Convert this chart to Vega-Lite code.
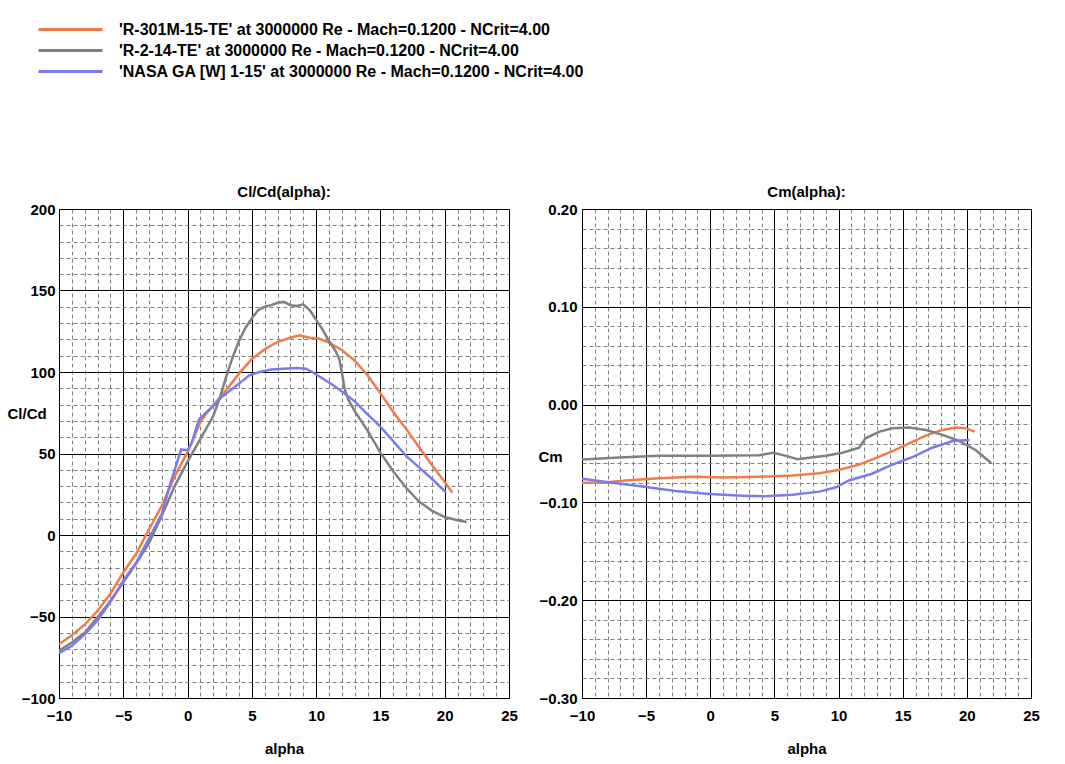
{
  "$schema": "https://vega.github.io/schema/vega-lite/v6.json",
  "background": "white",
  "padding": {"left": 6, "top": 20, "right": 0, "bottom": 0},
  "autosize": {"type": "pad"},
  "config": {
    "font": "Liberation Sans",
    "view": {"stroke": "black", "strokeWidth": 1},
    "axis": {
      "labelFont": "Liberation Sans", "labelFontSize": 15, "labelFontWeight": "bold", "labelColor": "black",
      "titleFont": "Liberation Sans", "titleFontSize": 15, "titleFontWeight": "bold", "titleColor": "black",
      "ticks": false, "domain": false, "grid": true, "gridOpacity": 1, "labelOverlap": false, "labelBound": false, "labelFlush": false
    },
    "title": {"font": "Liberation Sans", "fontSize": 15, "fontWeight": "bold", "color": "black", "offset": 2},
    "legend": {
      "orient": "none", "legendX": 2, "legendY": -189, "direction": "vertical",
      "title": null, "padding": 0,
      "symbolType": "M-4,0H4", "symbolSize": 256, "symbolStrokeWidth": 3,
      "labelFont": "Liberation Sans", "labelFontSize": 16, "labelFontWeight": "bold", "labelColor": "black",
      "labelLimit": 0, "labelOffset": 39, "rowPadding": 3
    }
  },
  "datasets": {
    "clcd": [
      {"series": "R-301M-15-TE", "alpha": -10, "v": -67},
      {"series": "R-301M-15-TE", "alpha": -9, "v": -61.5},
      {"series": "R-301M-15-TE", "alpha": -8, "v": -55},
      {"series": "R-301M-15-TE", "alpha": -7, "v": -46.5},
      {"series": "R-301M-15-TE", "alpha": -6, "v": -36},
      {"series": "R-301M-15-TE", "alpha": -5, "v": -23},
      {"series": "R-301M-15-TE", "alpha": -4, "v": -11.5},
      {"series": "R-301M-15-TE", "alpha": -3, "v": 3.5},
      {"series": "R-301M-15-TE", "alpha": -2, "v": 18},
      {"series": "R-301M-15-TE", "alpha": -1, "v": 36},
      {"series": "R-301M-15-TE", "alpha": 0, "v": 51},
      {"series": "R-301M-15-TE", "alpha": 0.5, "v": 60},
      {"series": "R-301M-15-TE", "alpha": 1, "v": 69.5},
      {"series": "R-301M-15-TE", "alpha": 1.5, "v": 75},
      {"series": "R-301M-15-TE", "alpha": 2, "v": 79.5},
      {"series": "R-301M-15-TE", "alpha": 3, "v": 89},
      {"series": "R-301M-15-TE", "alpha": 4, "v": 99},
      {"series": "R-301M-15-TE", "alpha": 5, "v": 108},
      {"series": "R-301M-15-TE", "alpha": 6, "v": 114},
      {"series": "R-301M-15-TE", "alpha": 7, "v": 118.5},
      {"series": "R-301M-15-TE", "alpha": 8, "v": 121},
      {"series": "R-301M-15-TE", "alpha": 8.7, "v": 122.5},
      {"series": "R-301M-15-TE", "alpha": 9.5, "v": 121},
      {"series": "R-301M-15-TE", "alpha": 10.2, "v": 120.5},
      {"series": "R-301M-15-TE", "alpha": 11, "v": 118},
      {"series": "R-301M-15-TE", "alpha": 12, "v": 113.5},
      {"series": "R-301M-15-TE", "alpha": 13, "v": 107},
      {"series": "R-301M-15-TE", "alpha": 14, "v": 98},
      {"series": "R-301M-15-TE", "alpha": 15, "v": 87},
      {"series": "R-301M-15-TE", "alpha": 16, "v": 75.5},
      {"series": "R-301M-15-TE", "alpha": 17, "v": 65},
      {"series": "R-301M-15-TE", "alpha": 18, "v": 54},
      {"series": "R-301M-15-TE", "alpha": 19, "v": 43},
      {"series": "R-301M-15-TE", "alpha": 20, "v": 32.5},
      {"series": "R-301M-15-TE", "alpha": 20.6, "v": 26},
      {"series": "R-2-14-TE", "alpha": -10, "v": -71},
      {"series": "R-2-14-TE", "alpha": -9, "v": -66},
      {"series": "R-2-14-TE", "alpha": -8, "v": -60},
      {"series": "R-2-14-TE", "alpha": -7, "v": -50.5},
      {"series": "R-2-14-TE", "alpha": -6, "v": -40.5},
      {"series": "R-2-14-TE", "alpha": -5, "v": -29},
      {"series": "R-2-14-TE", "alpha": -4, "v": -17.5},
      {"series": "R-2-14-TE", "alpha": -3, "v": -5},
      {"series": "R-2-14-TE", "alpha": -2, "v": 12},
      {"series": "R-2-14-TE", "alpha": -1, "v": 30},
      {"series": "R-2-14-TE", "alpha": 0, "v": 45},
      {"series": "R-2-14-TE", "alpha": 1, "v": 59},
      {"series": "R-2-14-TE", "alpha": 2, "v": 73},
      {"series": "R-2-14-TE", "alpha": 2.5, "v": 84},
      {"series": "R-2-14-TE", "alpha": 3, "v": 97},
      {"series": "R-2-14-TE", "alpha": 3.5, "v": 109},
      {"series": "R-2-14-TE", "alpha": 4, "v": 119},
      {"series": "R-2-14-TE", "alpha": 4.5, "v": 127},
      {"series": "R-2-14-TE", "alpha": 5, "v": 133},
      {"series": "R-2-14-TE", "alpha": 5.5, "v": 138},
      {"series": "R-2-14-TE", "alpha": 6, "v": 140},
      {"series": "R-2-14-TE", "alpha": 6.5, "v": 141},
      {"series": "R-2-14-TE", "alpha": 7, "v": 142.5},
      {"series": "R-2-14-TE", "alpha": 7.5, "v": 143},
      {"series": "R-2-14-TE", "alpha": 8, "v": 141},
      {"series": "R-2-14-TE", "alpha": 8.5, "v": 140.5},
      {"series": "R-2-14-TE", "alpha": 9, "v": 141.5},
      {"series": "R-2-14-TE", "alpha": 9.5, "v": 138},
      {"series": "R-2-14-TE", "alpha": 10, "v": 132},
      {"series": "R-2-14-TE", "alpha": 10.5, "v": 126},
      {"series": "R-2-14-TE", "alpha": 11, "v": 119},
      {"series": "R-2-14-TE", "alpha": 11.5, "v": 113},
      {"series": "R-2-14-TE", "alpha": 11.8, "v": 108},
      {"series": "R-2-14-TE", "alpha": 12, "v": 100},
      {"series": "R-2-14-TE", "alpha": 12.2, "v": 90},
      {"series": "R-2-14-TE", "alpha": 12.5, "v": 83},
      {"series": "R-2-14-TE", "alpha": 13, "v": 76},
      {"series": "R-2-14-TE", "alpha": 14, "v": 64},
      {"series": "R-2-14-TE", "alpha": 15, "v": 50.5},
      {"series": "R-2-14-TE", "alpha": 16, "v": 39},
      {"series": "R-2-14-TE", "alpha": 17, "v": 29},
      {"series": "R-2-14-TE", "alpha": 18, "v": 20.5},
      {"series": "R-2-14-TE", "alpha": 19, "v": 15},
      {"series": "R-2-14-TE", "alpha": 20, "v": 11},
      {"series": "R-2-14-TE", "alpha": 21, "v": 9},
      {"series": "R-2-14-TE", "alpha": 21.7, "v": 8},
      {"series": "NASA GA [W] 1-15", "alpha": -10, "v": -72.5},
      {"series": "NASA GA [W] 1-15", "alpha": -9, "v": -68},
      {"series": "NASA GA [W] 1-15", "alpha": -8, "v": -61},
      {"series": "NASA GA [W] 1-15", "alpha": -7, "v": -52.5},
      {"series": "NASA GA [W] 1-15", "alpha": -6, "v": -41},
      {"series": "NASA GA [W] 1-15", "alpha": -5, "v": -28},
      {"series": "NASA GA [W] 1-15", "alpha": -4, "v": -17},
      {"series": "NASA GA [W] 1-15", "alpha": -3, "v": -2},
      {"series": "NASA GA [W] 1-15", "alpha": -2, "v": 13},
      {"series": "NASA GA [W] 1-15", "alpha": -1.4, "v": 30},
      {"series": "NASA GA [W] 1-15", "alpha": -1, "v": 40},
      {"series": "NASA GA [W] 1-15", "alpha": -0.5, "v": 52.5},
      {"series": "NASA GA [W] 1-15", "alpha": 0, "v": 52},
      {"series": "NASA GA [W] 1-15", "alpha": 0.3, "v": 56},
      {"series": "NASA GA [W] 1-15", "alpha": 0.9, "v": 71},
      {"series": "NASA GA [W] 1-15", "alpha": 1.7, "v": 77},
      {"series": "NASA GA [W] 1-15", "alpha": 2.7, "v": 85},
      {"series": "NASA GA [W] 1-15", "alpha": 3.7, "v": 91},
      {"series": "NASA GA [W] 1-15", "alpha": 4.8, "v": 98},
      {"series": "NASA GA [W] 1-15", "alpha": 5.6, "v": 100},
      {"series": "NASA GA [W] 1-15", "alpha": 6.5, "v": 101.5},
      {"series": "NASA GA [W] 1-15", "alpha": 7.5, "v": 102},
      {"series": "NASA GA [W] 1-15", "alpha": 8.5, "v": 102.5},
      {"series": "NASA GA [W] 1-15", "alpha": 9.2, "v": 102},
      {"series": "NASA GA [W] 1-15", "alpha": 9.7, "v": 100},
      {"series": "NASA GA [W] 1-15", "alpha": 10.5, "v": 96},
      {"series": "NASA GA [W] 1-15", "alpha": 11.3, "v": 92},
      {"series": "NASA GA [W] 1-15", "alpha": 12, "v": 88},
      {"series": "NASA GA [W] 1-15", "alpha": 13, "v": 82},
      {"series": "NASA GA [W] 1-15", "alpha": 14, "v": 74},
      {"series": "NASA GA [W] 1-15", "alpha": 15, "v": 66.5},
      {"series": "NASA GA [W] 1-15", "alpha": 16, "v": 57.5},
      {"series": "NASA GA [W] 1-15", "alpha": 17, "v": 48.5},
      {"series": "NASA GA [W] 1-15", "alpha": 18, "v": 41.5},
      {"series": "NASA GA [W] 1-15", "alpha": 19, "v": 34.5},
      {"series": "NASA GA [W] 1-15", "alpha": 20, "v": 27},
      {"series": "NASA GA [W] 1-15", "alpha": 20.1, "v": 26}
    ],
    "cm": [
      {"series": "R-301M-15-TE", "alpha": -10, "v": -0.080},
      {"series": "R-301M-15-TE", "alpha": -8.4, "v": -0.080},
      {"series": "R-301M-15-TE", "alpha": -6.6, "v": -0.0776},
      {"series": "R-301M-15-TE", "alpha": -4, "v": -0.0752},
      {"series": "R-301M-15-TE", "alpha": -1.4, "v": -0.0738},
      {"series": "R-301M-15-TE", "alpha": 1.2, "v": -0.0745},
      {"series": "R-301M-15-TE", "alpha": 3.8, "v": -0.0738},
      {"series": "R-301M-15-TE", "alpha": 6.4, "v": -0.0724},
      {"series": "R-301M-15-TE", "alpha": 8.5, "v": -0.0703},
      {"series": "R-301M-15-TE", "alpha": 10, "v": -0.0669},
      {"series": "R-301M-15-TE", "alpha": 11.6, "v": -0.0614},
      {"series": "R-301M-15-TE", "alpha": 12.6, "v": -0.0562},
      {"series": "R-301M-15-TE", "alpha": 14.2, "v": -0.0476},
      {"series": "R-301M-15-TE", "alpha": 15.5, "v": -0.0397},
      {"series": "R-301M-15-TE", "alpha": 16.8, "v": -0.0317},
      {"series": "R-301M-15-TE", "alpha": 18.1, "v": -0.0259},
      {"series": "R-301M-15-TE", "alpha": 19.1, "v": -0.0234},
      {"series": "R-301M-15-TE", "alpha": 19.9, "v": -0.0241},
      {"series": "R-301M-15-TE", "alpha": 20.6, "v": -0.0276},
      {"series": "R-2-14-TE", "alpha": -10, "v": -0.0562},
      {"series": "R-2-14-TE", "alpha": -7.1, "v": -0.0541},
      {"series": "R-2-14-TE", "alpha": -4, "v": -0.0524},
      {"series": "R-2-14-TE", "alpha": 0, "v": -0.0524},
      {"series": "R-2-14-TE", "alpha": 3.8, "v": -0.0517},
      {"series": "R-2-14-TE", "alpha": 4.9, "v": -0.0493},
      {"series": "R-2-14-TE", "alpha": 5.9, "v": -0.0524},
      {"series": "R-2-14-TE", "alpha": 6.8, "v": -0.0559},
      {"series": "R-2-14-TE", "alpha": 8, "v": -0.0538},
      {"series": "R-2-14-TE", "alpha": 9, "v": -0.0524},
      {"series": "R-2-14-TE", "alpha": 10.3, "v": -0.0493},
      {"series": "R-2-14-TE", "alpha": 11.6, "v": -0.0441},
      {"series": "R-2-14-TE", "alpha": 12.1, "v": -0.0345},
      {"series": "R-2-14-TE", "alpha": 13.2, "v": -0.0276},
      {"series": "R-2-14-TE", "alpha": 14.2, "v": -0.0241},
      {"series": "R-2-14-TE", "alpha": 15.5, "v": -0.0234},
      {"series": "R-2-14-TE", "alpha": 16.8, "v": -0.0259},
      {"series": "R-2-14-TE", "alpha": 18.1, "v": -0.031},
      {"series": "R-2-14-TE", "alpha": 19.4, "v": -0.0372},
      {"series": "R-2-14-TE", "alpha": 20.7, "v": -0.0466},
      {"series": "R-2-14-TE", "alpha": 21.9, "v": -0.0597},
      {"series": "NASA GA [W] 1-15", "alpha": -10, "v": -0.0759},
      {"series": "NASA GA [W] 1-15", "alpha": -7.9, "v": -0.0793},
      {"series": "NASA GA [W] 1-15", "alpha": -5.3, "v": -0.0838},
      {"series": "NASA GA [W] 1-15", "alpha": -2.7, "v": -0.0883},
      {"series": "NASA GA [W] 1-15", "alpha": -0.1, "v": -0.0914},
      {"series": "NASA GA [W] 1-15", "alpha": 2.5, "v": -0.0931},
      {"series": "NASA GA [W] 1-15", "alpha": 4.3, "v": -0.0938},
      {"series": "NASA GA [W] 1-15", "alpha": 6.4, "v": -0.0921},
      {"series": "NASA GA [W] 1-15", "alpha": 8.5, "v": -0.089},
      {"series": "NASA GA [W] 1-15", "alpha": 9.8, "v": -0.0845},
      {"series": "NASA GA [W] 1-15", "alpha": 10.8, "v": -0.0776},
      {"series": "NASA GA [W] 1-15", "alpha": 12.6, "v": -0.0707},
      {"series": "NASA GA [W] 1-15", "alpha": 14.2, "v": -0.0614},
      {"series": "NASA GA [W] 1-15", "alpha": 15.8, "v": -0.0534},
      {"series": "NASA GA [W] 1-15", "alpha": 17.3, "v": -0.0441},
      {"series": "NASA GA [W] 1-15", "alpha": 18.9, "v": -0.0372},
      {"series": "NASA GA [W] 1-15", "alpha": 20.2, "v": -0.0362}
    ]
  },
  "spacing": 19,
  "resolve": {"scale": {"color": "shared"}, "legend": {"color": "shared"}},
  "hconcat": [
    {
      "width": 450,
      "height": 489,
      "title": {"text": "Cl/Cd(alpha):"},
      "data": {"name": "clcd"},
      "mark": {"type": "line", "strokeWidth": 2.5, "clip": true},
      "encoding": {
        "x": {
          "field": "alpha", "type": "quantitative",
          "scale": {"domain": [-10, 25], "nice": false, "zero": false},
          "axis": {
            "values": [-10,-9,-8,-7,-6,-5,-4,-3,-2,-1,0,1,2,3,4,5,6,7,8,9,10,11,12,13,14,15,16,17,18,19,20,21,22,23,24,25],
            "labelExpr": "datum.value % 5 === 0 ? datum.label : ''",
            "gridColor": {"condition": {"test": "datum.value % 5 === 0", "value": "black"}, "value": "#808080"},
            "gridDash": {"condition": {"test": "datum.value % 5 === 0", "value": []}, "value": [4, 3]},
            "labelPadding": 10,
            "title": "alpha",
            "titlePadding": 18
          }
        },
        "y": {
          "field": "v", "type": "quantitative",
          "scale": {"domain": [-100, 200], "nice": false, "zero": false},
          "axis": {
            "values": [-100,-90,-80,-70,-60,-50,-40,-30,-20,-10,0,10,20,30,40,50,60,70,80,90,100,110,120,130,140,150,160,170,180,190,200],
            "labelExpr": "datum.value % 50 === 0 ? datum.label : ''",
            "gridColor": {"condition": {"test": "datum.value % 50 === 0", "value": "black"}, "value": "#808080"},
            "gridDash": {"condition": {"test": "datum.value % 50 === 0", "value": []}, "value": [4, 3]},
            "labelPadding": 4,
            "title": "Cl/Cd",
            "titleAngle": 0, "titleAlign": "left", "titleBaseline": "middle",
            "titleX": -52, "titleY": 204
          }
        },
        "color": {
          "field": "series", "type": "nominal",
          "scale": {"domain": ["R-301M-15-TE", "R-2-14-TE", "NASA GA [W] 1-15"], "range": ["#f07c48", "#808080", "#7b7bee"]},
          "legend": {
            "labelExpr": "\"'\" + datum.label + \"' at 3000000 Re - Mach=0.1200 - NCrit=4.00\""
          }
        }
      }
    },
    {
      "width": 449,
      "height": 489,
      "title": {"text": "Cm(alpha):"},
      "data": {"name": "cm"},
      "mark": {"type": "line", "strokeWidth": 2.5, "clip": true},
      "encoding": {
        "x": {
          "field": "alpha", "type": "quantitative",
          "scale": {"domain": [-10, 25], "nice": false, "zero": false},
          "axis": {
            "values": [-10,-9,-8,-7,-6,-5,-4,-3,-2,-1,0,1,2,3,4,5,6,7,8,9,10,11,12,13,14,15,16,17,18,19,20,21,22,23,24,25],
            "labelExpr": "datum.value % 5 === 0 ? datum.label : ''",
            "gridColor": {"condition": {"test": "datum.value % 5 === 0", "value": "black"}, "value": "#808080"},
            "gridDash": {"condition": {"test": "datum.value % 5 === 0", "value": []}, "value": [4, 3]},
            "labelPadding": 10,
            "title": "alpha",
            "titlePadding": 18
          }
        },
        "y": {
          "field": "v", "type": "quantitative",
          "scale": {"domain": [-0.3, 0.2], "nice": false, "zero": false},
          "axis": {
            "values": [-0.3,-0.28,-0.26,-0.24,-0.22,-0.2,-0.18,-0.16,-0.14,-0.12,-0.1,-0.08,-0.06,-0.04,-0.02,0,0.02,0.04,0.06,0.08,0.1,0.12,0.14,0.16,0.18,0.2],
            "format": ".2f",
            "labelExpr": "abs(round(datum.value * 10) - datum.value * 10) < 0.001 ? datum.label : ''",
            "gridColor": {"condition": {"test": "abs(round(datum.value * 10) - datum.value * 10) < 0.001", "value": "black"}, "value": "#808080"},
            "gridDash": {"condition": {"test": "abs(round(datum.value * 10) - datum.value * 10) < 0.001", "value": []}, "value": [4, 3]},
            "labelPadding": 5,
            "title": "Cm",
            "titleAngle": 0, "titleAlign": "left", "titleBaseline": "middle",
            "titleX": -44, "titleY": 247
          }
        },
        "color": {
          "field": "series", "type": "nominal",
          "scale": {"domain": ["R-301M-15-TE", "R-2-14-TE", "NASA GA [W] 1-15"], "range": ["#f07c48", "#808080", "#7b7bee"]},
          "legend": {
            "labelExpr": "\"'\" + datum.label + \"' at 3000000 Re - Mach=0.1200 - NCrit=4.00\""
          }
        }
      }
    }
  ]
}
